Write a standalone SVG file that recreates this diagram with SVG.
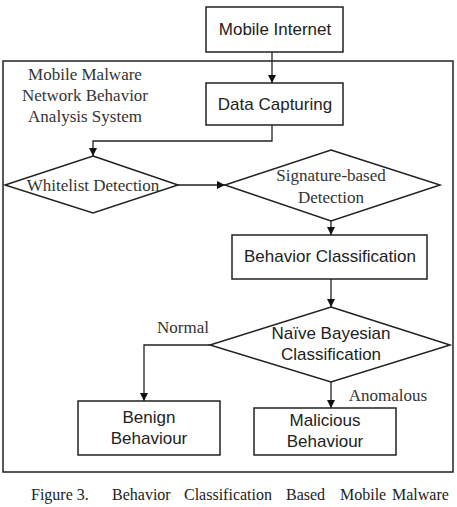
<svg xmlns="http://www.w3.org/2000/svg" width="457" height="507" viewBox="0 0 457 507">
<defs>
<marker id="arr" viewBox="0 0 10 10" refX="10" refY="5" markerWidth="8" markerHeight="8" markerUnits="userSpaceOnUse" orient="auto">
<path d="M0,0 L10,5 L0,10 z" fill="#111"/>
</marker>
<style>
.box{fill:#fff;stroke:#222;stroke-width:1.5}
.sys{fill:none;stroke:#222;stroke-width:1.5}
.sans{font-family:"Liberation Sans",Arial,sans-serif;font-size:17px;fill:#222;text-anchor:middle;dominant-baseline:central}
.serif{font-family:"Liberation Serif","Times New Roman",serif;font-size:17px;fill:#333;text-anchor:middle;dominant-baseline:central}
.cap{font-family:"Liberation Serif","Times New Roman",serif;font-size:16px;fill:#222}
.conn{fill:none;stroke:#222;stroke-width:1.3}
</style>
</defs>
<rect width="457" height="507" fill="#fff"/>
<g id="system">
<rect class="sys" x="3" y="61" width="450" height="411"/>
<text class="serif" x="85" y="74">Mobile Malware</text>
<text class="serif" x="85" y="95">Network Behavior</text>
<text class="serif" x="85" y="116">Analysis System</text>
</g>
<g id="connectors">
<path class="conn" d="M272,52 V83" marker-end="url(#arr)"/>
<path class="conn" d="M272,125 V141 H93 V156" marker-end="url(#arr)"/>
<path class="conn" d="M178,185 H225" marker-end="url(#arr)"/>
<path class="conn" d="M331,221 V235" marker-end="url(#arr)"/>
<path class="conn" d="M331,279 V307" marker-end="url(#arr)"/>
<path class="conn" d="M210,345 H144 V401" marker-end="url(#arr)"/>
<path class="conn" d="M331,382 V408" marker-end="url(#arr)"/>
<text class="serif" x="183" y="327">Normal</text>
<text class="serif" x="388" y="395">Anomalous</text>
</g>
<g id="mobile-internet">
<rect class="box" x="206" y="7" width="137" height="45"/>
<text class="sans" x="275" y="29">Mobile Internet</text>
</g>
<g id="data-capturing">
<rect class="box" x="206" y="83" width="137" height="42"/>
<text class="sans" x="275" y="104">Data Capturing</text>
</g>
<g id="whitelist">
<polygon class="box" points="93,156 178,185 93,213 5,185"/>
<text class="serif" x="93" y="185">Whitelist Detection</text>
</g>
<g id="signature">
<polygon class="box" points="331,150 440,185 331,221 225,185"/>
<text class="serif" x="331" y="175">Signature-based</text>
<text class="serif" x="331" y="197">Detection</text>
</g>
<g id="behavior-classification">
<rect class="box" x="232" y="235" width="195" height="44"/>
<text class="sans" x="330" y="256">Behavior Classification</text>
</g>
<g id="naive-bayesian">
<polygon class="box" points="331,307 450,345 331,382 210,345"/>
<text class="sans" x="331" y="333">Naïve Bayesian</text>
<text class="sans" x="331" y="354">Classification</text>
</g>
<g id="benign">
<rect class="box" x="78" y="401" width="142" height="54"/>
<text class="sans" x="149" y="417">Benign</text>
<text class="sans" x="149" y="438">Behaviour</text>
</g>
<g id="malicious">
<rect class="box" x="254" y="408" width="142" height="47"/>
<text class="sans" x="325" y="420">Malicious</text>
<text class="sans" x="325" y="441">Behaviour</text>
</g>
<g id="caption">
<text class="cap" x="31" y="500">Figure 3.</text>
<text class="cap" x="112" y="500">Behavior</text>
<text class="cap" x="184" y="500">Classification</text>
<text class="cap" x="286" y="500">Based</text>
<text class="cap" x="340" y="500">Mobile</text>
<text class="cap" x="392" y="500">Malware</text>
</g>
</svg>
